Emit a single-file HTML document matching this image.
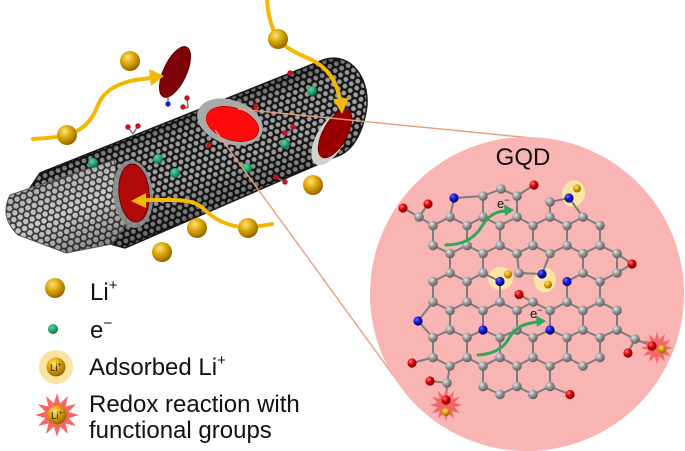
<!DOCTYPE html>
<html><head><meta charset="utf-8"><style>
html,body{margin:0;padding:0;background:#fff;}
svg{display:block;}
.c{fill:url(#gC);}
.n{fill:url(#gN);}
.o{fill:url(#gO);}
.au{fill:url(#gAu);}
.gr{fill:url(#gG);}
text{font-family:"Liberation Sans",Arial,sans-serif;fill:#111;}
</style></head><body>
<svg width="685" height="451" viewBox="0 0 685 451" xmlns="http://www.w3.org/2000/svg">
<defs>
<radialGradient id="gC" cx="35%" cy="32%" r="70%"><stop offset="0" stop-color="#e6e6e6"/><stop offset="0.5" stop-color="#969696"/><stop offset="1" stop-color="#5c5c5c"/></radialGradient>
<radialGradient id="gN" cx="35%" cy="32%" r="70%"><stop offset="0" stop-color="#6a6aff"/><stop offset="0.5" stop-color="#1414cc"/><stop offset="1" stop-color="#05056e"/></radialGradient>
<radialGradient id="gO" cx="35%" cy="32%" r="70%"><stop offset="0" stop-color="#ff7a7a"/><stop offset="0.5" stop-color="#d80000"/><stop offset="1" stop-color="#7a0000"/></radialGradient>
<radialGradient id="gAu" cx="38%" cy="32%" r="70%"><stop offset="0" stop-color="#ffe27a"/><stop offset="0.5" stop-color="#d9a300"/><stop offset="1" stop-color="#8e6400"/></radialGradient>
<radialGradient id="gG" cx="38%" cy="32%" r="70%"><stop offset="0" stop-color="#5fd6a0"/><stop offset="0.55" stop-color="#1ea56d"/><stop offset="1" stop-color="#0c6a44"/></radialGradient>
<pattern id="hexD" width="6.93" height="12" patternUnits="userSpaceOnUse" patternTransform="rotate(-21)">
<rect width="6.93" height="12" fill="#b4b4b4"/>
<path d="M3.465,0V2M3.465,10V12M3.465,2L6.93,4V8L3.465,10L0,8V4Z" fill="none" stroke="#1a1a1a" stroke-width="2.4"/>
</pattern>
<pattern id="hexL" width="6.93" height="12" patternUnits="userSpaceOnUse" patternTransform="rotate(-21)">
<rect width="6.93" height="12" fill="#d4d4d4"/>
<path d="M3.465,0V2M3.465,10V12M3.465,2L6.93,4V8L3.465,10L0,8V4Z" fill="none" stroke="#3a3a3a" stroke-width="1.7"/>
</pattern>
<linearGradient id="shadeD" gradientUnits="userSpaceOnUse" x1="216" y1="100" x2="252" y2="196">
<stop offset="0" stop-color="#000" stop-opacity="0.5"/><stop offset="0.2" stop-color="#000" stop-opacity="0.15"/><stop offset="0.6" stop-color="#000" stop-opacity="0.08"/><stop offset="1" stop-color="#000" stop-opacity="0.4"/>
</linearGradient>
<linearGradient id="shadeL" gradientUnits="userSpaceOnUse" x1="45" y1="175" x2="78" y2="256">
<stop offset="0" stop-color="#000" stop-opacity="0.2"/><stop offset="0.5" stop-color="#000" stop-opacity="0.05"/><stop offset="1" stop-color="#000" stop-opacity="0.35"/>
</linearGradient>
<polygon id="star" points="1,0 0.531,0.142 0.866,0.5 0.389,0.389 0.5,0.866 0.142,0.531 0,1 -0.142,0.531 -0.5,0.866 -0.389,0.389 -0.866,0.5 -0.531,0.142 -1,0 -0.531,-0.142 -0.866,-0.5 -0.389,-0.389 -0.5,-0.866 -0.142,-0.531 0,-1 0.142,-0.531 0.5,-0.866 0.389,-0.389 0.866,-0.5 0.531,-0.142" fill="#f56767"/>
</defs>

<!-- Nanotube dark body -->
<path d="M40,173 L323,60 C352,50 372,82 366,112 C361,138 350,153 335,157 L125,248 L95,240 L30,188 Z" fill="url(#hexD)"/>
<path d="M40,173 L323,60 C352,50 372,82 366,112 C361,138 350,153 335,157 L125,248 L95,240 L30,188 Z" fill="url(#shadeD)" stroke="#1a1a1a" stroke-width="1.5"/>
<!-- Lighter gray tube section -->
<path d="M10,195 L114,160 L126,224 L112,244 L66,253 L18,235 Q-1,217 10,195 Z" fill="url(#hexL)"/>
<path d="M10,195 L114,160 L126,224 L112,244 L66,253 L18,235 Q-1,217 10,195 Z" fill="url(#shadeL)" stroke="#555" stroke-width="1"/>

<!-- Lower-left cut with red ellipse -->
<ellipse cx="133" cy="194" rx="20" ry="34" transform="rotate(-5 133 194)" fill="#8e8e8e" opacity="0.9"/>
<ellipse cx="134" cy="193" rx="15" ry="29" transform="rotate(-5 134 193)" fill="#b00a0a" stroke="#6e0000" stroke-width="1"/>
<!-- Middle bright red ellipse -->
<ellipse cx="230" cy="122" rx="34" ry="22" transform="rotate(19 230 122)" fill="#a9a9a9"/>
<ellipse cx="232.5" cy="124" rx="27" ry="16" transform="rotate(19 232.5 124)" fill="#ff0a0a" stroke="#c00000" stroke-width="0.8"/>
<!-- Right end ellipse -->
<ellipse cx="330" cy="139" rx="14" ry="29" transform="rotate(29 330 139)" fill="#d2d2d2"/>
<ellipse cx="335" cy="133.5" rx="12" ry="27" transform="rotate(29 335 133.5)" fill="#9a0000" stroke="#6a0000" stroke-width="0.8"/>
<!-- Floating ellipse -->
<ellipse cx="175" cy="72" rx="11.5" ry="27.5" transform="rotate(25 175 72)" fill="#7d0308" stroke="#5a0000" stroke-width="0.8"/>

<!-- small functional groups on tube -->
<g stroke="#777" stroke-width="1.5">
<path d="M128,127L133,134M138,126L133,134M187,98L188,108M183,107L188,108M168,97L168,104M293,127L289,132M285,133L289,132M276,177L281,180M285,182L281,180"/>
</g>
<g fill="#c4141e">
<circle cx="128" cy="127" r="2.7"/><circle cx="138" cy="126" r="2.7"/>
<circle cx="187" cy="98" r="2.7"/><circle cx="183" cy="107" r="2.7"/>
<circle cx="209" cy="145" r="2.7"/><circle cx="256" cy="106" r="2.7"/>
<circle cx="290" cy="73" r="2.7"/><circle cx="293" cy="127" r="2.7"/><circle cx="285" cy="133" r="2.7"/>
<circle cx="276" cy="177" r="2.7"/><circle cx="285" cy="182" r="2.7"/>
</g>
<circle cx="168" cy="104" r="2.6" fill="#1a1ad0"/>

<!-- electrons on tube -->
<circle class="gr" cx="93" cy="163" r="5"/>
<circle class="gr" cx="158" cy="159" r="5"/>
<circle class="gr" cx="175" cy="173" r="5"/>
<circle class="gr" cx="247" cy="168" r="5"/>
<circle class="gr" cx="285" cy="144" r="5"/>
<circle class="gr" cx="312" cy="91" r="5"/>

<!-- yellow arrows -->
<g fill="none" stroke="#f3b800" stroke-width="4" stroke-linecap="round">
<path d="M33,139 C50,138 60,137 67,135 C85,130 93,118 98,105 C103,92 115,84 135,80 L151,78"/>
<path d="M267,0 C268,15 272,30 278,39 C285,48 298,54 312,60 C328,68 337,82 340,100"/>
<path d="M272,224 L248,228 C225,226 213,218 205,210 C198,203 190,200 170,200 L146,200"/>
</g>
<g fill="#f3b800">
<polygon points="164,76 149,69 151,86"/>
<polygon points="342,114 333,99 349,98"/>
<polygon points="131,201 146,193 146,208"/>
</g>

<!-- Li+ balls -->
<circle class="au" cx="130" cy="61" r="10"/>
<circle class="au" cx="67" cy="135" r="10"/>
<circle class="au" cx="278" cy="39" r="10"/>
<circle class="au" cx="313" cy="185" r="10"/>
<circle class="au" cx="197" cy="228" r="10"/>
<circle class="au" cx="248" cy="228" r="10"/>
<circle class="au" cx="162" cy="252" r="10"/>

<!-- connector lines -->
<g stroke="#e8a07a" stroke-width="1.4" fill="none">
<path d="M238,109 L542,139"/>
<path d="M215,130 L401,386"/>
</g>

<!-- GQD circle -->
<circle cx="527" cy="294" r="157" fill="#f9b4b4"/>
<text x="523" y="165" font-size="24" text-anchor="middle">GQD</text>

<!-- halos -->
<g fill="#fbe4a4">
<ellipse cx="573.5" cy="193.5" rx="11.5" ry="13.5" transform="rotate(15 573.5 193.5)"/>
<ellipse cx="500.5" cy="278.5" rx="12.5" ry="11.5"/>
<ellipse cx="545" cy="280" rx="11" ry="12.5"/>
</g>

<!-- bonds -->
<path fill="none" stroke="#7c7c7c" stroke-width="2" d="
M454,198L483,196M454,198L450,217M483,196L483,217M483,196L501,189M501,189L517,196M517,196L517,217M517,196L534,185M550,202L550,217M550,202L569,198M569,198L583,217
M433,225.5L419,217M419,217L403,208M419,217L428,204
M450,217L433,225.5M450,217L467,225.5M483,217L467,225.5M483,217L500,225.5M517,217L500,225.5M517,217L533,225.5M550,217L533,225.5M550,217L567,225.5M583,217L567,225.5M583,217L600,225.5
M433,225.5V245.5M467,225.5V245.5M500,225.5V245.5M533,225.5V245.5M567,225.5V245.5M600,225.5V245.5
M433,245.5L450,253.5M467,245.5L450,253.5M467,245.5L483,253.5M500,245.5L483,253.5M500,245.5L517,253.5M533,245.5L517,253.5M533,245.5L550,253.5M567,245.5L550,253.5M567,245.5L583,253.5M600,245.5L583,253.5M600,245.5L617,253.5
M450,253.5V273M483,253.5V273M517,253.5L519,273M550,253.5L542,274M583,253.5V273M617,253.5V273
M617,253.5L632,264M617,273L632,264M519,273L542,274
M450,273L433,281.5M450,273L467,281.5M483,273L467,281.5M483,273L500,281.5M583,273L567,281.5M583,273L600,281.5M617,273L600,281.5
M433,281.5V302M467,281.5V302M500,281.5V302M567,281.5V302M600,281.5V302M533,302L519,294.5
M433,302L450,310.5M467,302L450,310.5M467,302L483,310.5M500,302L483,310.5M500,302L517,310.5M533,302L517,310.5M533,302L550,310.5M567,302L550,310.5M567,302L583,310.5M600,302L583,310.5M600,302L617,310.5
M450,310.5V330M483,310.5V330M517,310.5V330M550,310.5V330M583,310.5V330M617,310.5V330
M433,302L418,321M418,321L433,337.5
M450,330L433,337.5M450,330L467,337.5M483,330L467,337.5M483,330L500,337.5M517,330L500,337.5M517,330L533,337.5M550,330L533,337.5M550,330L567,337.5M583,330L567,337.5M583,330L600,337.5M617,330L600,337.5
M617,330L635,339M635,339L628,353M635,339L652,346
M433,337.5V357.5M467,337.5V357.5M500,337.5V357.5M533,337.5V357.5M567,337.5V357.5M600,337.5V357.5M433,357.5L412,363
M433,357.5L450,366M467,357.5L450,366M467,357.5L483,366M500,357.5L483,366M500,357.5L517,366M533,357.5L517,366M533,357.5L550,366M567,357.5L550,366M567,357.5L583,366M600,357.5L583,366
M483,366V386.5M517,366V386.5M550,366V386.5
M450,366L447,383M447,383L430,381M447,383L446,400
M483,386.5L500,394.5M517,386.5L500,394.5M517,386.5L533,394.5M550,386.5L533,394.5M550,386.5L570,394.5"/>

<!-- stars in GQD -->
<use href="#star" transform="translate(446,405) scale(16)"/>
<use href="#star" transform="translate(657,348) scale(16)"/>

<!-- carbon atoms -->
<g>
<circle class="c" cx="450" cy="217" r="4.8"/><circle class="c" cx="483" cy="217" r="4.8"/><circle class="c" cx="517" cy="217" r="4.8"/><circle class="c" cx="550" cy="217" r="4.8"/><circle class="c" cx="583" cy="217" r="4.8"/>
<circle class="c" cx="433" cy="225.5" r="4.8"/><circle class="c" cx="467" cy="225.5" r="4.8"/><circle class="c" cx="500" cy="225.5" r="4.8"/><circle class="c" cx="533" cy="225.5" r="4.8"/><circle class="c" cx="567" cy="225.5" r="4.8"/><circle class="c" cx="600" cy="225.5" r="4.8"/>
<circle class="c" cx="433" cy="245.5" r="4.8"/><circle class="c" cx="467" cy="245.5" r="4.8"/><circle class="c" cx="500" cy="245.5" r="4.8"/><circle class="c" cx="533" cy="245.5" r="4.8"/><circle class="c" cx="567" cy="245.5" r="4.8"/><circle class="c" cx="600" cy="245.5" r="4.8"/>
<circle class="c" cx="450" cy="253.5" r="4.8"/><circle class="c" cx="483" cy="253.5" r="4.8"/><circle class="c" cx="517" cy="253.5" r="4.8"/><circle class="c" cx="550" cy="253.5" r="4.8"/><circle class="c" cx="583" cy="253.5" r="4.8"/><circle class="c" cx="617" cy="253.5" r="4.8"/>
<circle class="c" cx="450" cy="273" r="4.8"/><circle class="c" cx="483" cy="273" r="4.8"/><circle class="c" cx="519" cy="273" r="4.8"/><circle class="c" cx="583" cy="273" r="4.8"/><circle class="c" cx="617" cy="273" r="4.8"/>
<circle class="c" cx="433" cy="281.5" r="4.8"/><circle class="c" cx="467" cy="281.5" r="4.8"/><circle class="c" cx="600" cy="281.5" r="4.8"/>
<circle class="c" cx="433" cy="302" r="4.8"/><circle class="c" cx="467" cy="302" r="4.8"/><circle class="c" cx="500" cy="302" r="4.8"/><circle class="c" cx="533" cy="302" r="4.8"/><circle class="c" cx="567" cy="302" r="4.8"/><circle class="c" cx="600" cy="302" r="4.8"/>
<circle class="c" cx="450" cy="310.5" r="4.8"/><circle class="c" cx="483" cy="310.5" r="4.8"/><circle class="c" cx="517" cy="310.5" r="4.8"/><circle class="c" cx="550" cy="310.5" r="4.8"/><circle class="c" cx="583" cy="310.5" r="4.8"/><circle class="c" cx="617" cy="310.5" r="4.8"/>
<circle class="c" cx="450" cy="330" r="4.8"/><circle class="c" cx="517" cy="330" r="4.8"/><circle class="c" cx="583" cy="330" r="4.8"/><circle class="c" cx="617" cy="330" r="4.8"/>
<circle class="c" cx="433" cy="337.5" r="4.8"/><circle class="c" cx="467" cy="337.5" r="4.8"/><circle class="c" cx="500" cy="337.5" r="4.8"/><circle class="c" cx="533" cy="337.5" r="4.8"/><circle class="c" cx="567" cy="337.5" r="4.8"/><circle class="c" cx="600" cy="337.5" r="4.8"/>
<circle class="c" cx="433" cy="357.5" r="4.8"/><circle class="c" cx="467" cy="357.5" r="4.8"/><circle class="c" cx="500" cy="357.5" r="4.8"/><circle class="c" cx="533" cy="357.5" r="4.8"/><circle class="c" cx="567" cy="357.5" r="4.8"/><circle class="c" cx="600" cy="357.5" r="4.8"/>
<circle class="c" cx="450" cy="366" r="4.8"/><circle class="c" cx="483" cy="366" r="4.8"/><circle class="c" cx="517" cy="366" r="4.8"/><circle class="c" cx="550" cy="366" r="4.8"/><circle class="c" cx="583" cy="366" r="4.8"/>
<circle class="c" cx="483" cy="386.5" r="4.8"/><circle class="c" cx="517" cy="386.5" r="4.8"/><circle class="c" cx="550" cy="386.5" r="4.8"/>
<circle class="c" cx="500" cy="394.5" r="4.8"/><circle class="c" cx="533" cy="394.5" r="4.8"/>
<circle class="c" cx="483" cy="196" r="4.8"/><circle class="c" cx="501" cy="189" r="4.8"/><circle class="c" cx="517" cy="196" r="4.8"/><circle class="c" cx="550" cy="202" r="4.8"/>
<circle class="c" cx="419" cy="217" r="4.8"/><circle class="c" cx="447" cy="383" r="4.8"/><circle class="c" cx="635" cy="339" r="4.8"/>
</g>
<!-- nitrogen -->
<g>
<circle class="n" cx="454" cy="198" r="4.6"/><circle class="n" cx="569" cy="198" r="4.6"/><circle class="n" cx="542" cy="274" r="4.6"/><circle class="n" cx="500" cy="281.5" r="4.6"/><circle class="n" cx="567" cy="281.5" r="4.6"/><circle class="n" cx="418" cy="321" r="4.6"/><circle class="n" cx="483" cy="330" r="4.6"/><circle class="n" cx="550" cy="330" r="4.6"/>
</g>
<!-- oxygen -->
<g>
<circle class="o" cx="403" cy="208" r="4.6"/><circle class="o" cx="428" cy="204" r="4.6"/><circle class="o" cx="534" cy="185" r="4.6"/><circle class="o" cx="632" cy="264" r="4.6"/><circle class="o" cx="519" cy="294.5" r="4.6"/><circle class="o" cx="412" cy="363" r="4.6"/><circle class="o" cx="430" cy="381" r="4.6"/><circle class="o" cx="446" cy="400" r="4.6"/><circle class="o" cx="628" cy="353" r="4.6"/><circle class="o" cx="652" cy="346" r="4.6"/><circle class="o" cx="570" cy="394.5" r="4.6"/>
</g>
<!-- gold Li in GQD -->
<g>
<circle class="au" cx="577" cy="188.5" r="4"/><circle class="au" cx="508" cy="274.5" r="4"/><circle class="au" cx="548" cy="284.5" r="4"/><circle class="au" cx="446" cy="412" r="4"/><circle class="au" cx="662" cy="349" r="4"/>
</g>

<!-- green electron arrows -->
<g fill="none" stroke="#2ea85c" stroke-width="3" stroke-linecap="round">
<path d="M446,245 C466,245 476,236 482,226 C488,216 496,211 506,211"/>
<path d="M478,355 C494,354 503,348 508,340 C513,330 520,324 537,322"/>
</g>
<g fill="#2ea85c">
<polygon points="514,210 504,204.5 505,216"/>
<polygon points="546,321 536,315.5 537,327"/>
</g>
<text x="497" y="208" font-size="13">e<tspan font-size="9" dy="-5">−</tspan></text>
<text x="530" y="318" font-size="13">e<tspan font-size="9" dy="-5">−</tspan></text>

<!-- Legend -->
<circle class="au" cx="55" cy="288" r="10"/>
<text x="90" y="300" font-size="24">Li<tspan font-size="15" dy="-10">+</tspan></text>
<circle class="gr" cx="53" cy="329" r="5"/>
<text x="90" y="338" font-size="24">e<tspan font-size="15" dy="-10">−</tspan></text>
<circle cx="56" cy="367" r="17" fill="#fbe3a0"/>
<circle class="au" cx="56" cy="367" r="9.5"/>
<text x="50" y="371" font-size="10" style="fill:#222">Li<tspan font-size="7" dy="-4">+</tspan></text>
<text x="89" y="375" font-size="24">Adsorbed Li<tspan font-size="15" dy="-10">+</tspan></text>
<use href="#star" transform="translate(57,415) scale(22)"/>
<circle class="au" cx="57" cy="415" r="9.5"/>
<text x="51" y="419" font-size="10" style="fill:#222">Li<tspan font-size="7" dy="-4">+</tspan></text>
<text x="89" y="412" font-size="24">Redox reaction with</text>
<text x="89" y="438" font-size="24">functional groups</text>
</svg>
</body></html>
